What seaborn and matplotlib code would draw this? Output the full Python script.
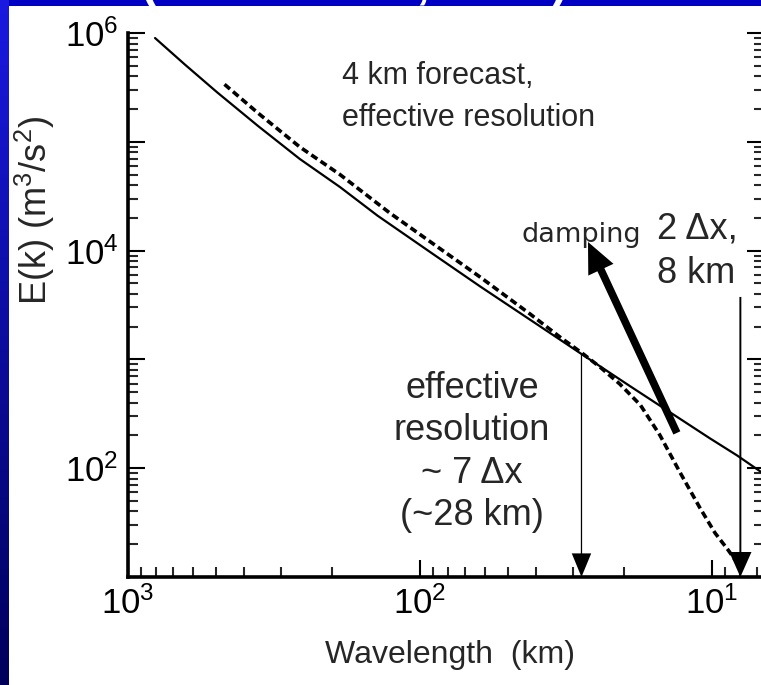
import numpy as np
import pandas as pd
import matplotlib
matplotlib.use("Agg")
import matplotlib.pyplot as plt
import seaborn as sns
from matplotlib.patches import Rectangle
from matplotlib.ticker import LogLocator, FuncFormatter, NullFormatter

# Kinetic energy spectra: wavelength (km) vs E(k) (m^3/s^2)
ref_wavelength = [808, 638, 496, 359, 258, 188, 140, 92.4, 62.3, 42.0, 27.9, 19.1,
                  13.6, 10.2, 8.21, 6.64]
ref_energy = [8.99e5, 5.12e5, 2.86e5, 1.40e5, 6.95e4, 3.84e4, 2.10e4, 9710, 4690,
              2317, 1114, 568, 313, 189, 131, 88.5]

fcst_wavelength = [473, 359, 258, 188, 127, 92.4, 62.3, 42.0, 33.2, 27.9, 24.2, 20.7,
                   17.6, 15.1, 12.9, 11.0, 9.77, 8.81, 8.15]
fcst_energy = [3.47e5, 1.84e5, 8.96e4, 5.00e4, 2.22e4, 1.21e4, 5720, 2614, 1607, 1145,
               851, 594, 381, 202, 92.3, 43.1, 25.4, 17.7, 13.2]

eff_res_km = 28      # effective resolution ~7 dx
two_dx_km = 8        # 2 dx for the 4 km grid
x_ticks = [1e3, 1e2, 1e1]
y_ticks_labeled = [1e2, 1e4, 1e6]

W, H = 761, 685
sns.set_style("ticks")
plt.rcParams["font.family"] = ["Liberation Sans", "DejaVu Sans"]
plt.rcParams["mathtext.fontset"] = "custom"
plt.rcParams["mathtext.rm"] = "Liberation Sans"
plt.rcParams["mathtext.it"] = "Liberation Sans:italic"
plt.rcParams["mathtext.bf"] = "Liberation Sans:bold"

fig = plt.figure(figsize=(W / 100, H / 100), dpi=100, facecolor="#0000c4")

def fx(px):
    return px / W

def fy(py):
    return 1 - py / H

# slide backdrop: gradient strip on the left, white panel for the chart
strip = fig.add_axes([0, 0, fx(9), 1], zorder=-2)
grad = np.linspace(0, 1, 200)[:, None]
top_c = np.array([0.10, 0.10, 0.88])
bot_c = np.array([0.0, 0.0, 0.36])
img = (top_c[None, None, :] * (1 - grad[..., None]) + bot_c[None, None, :] * grad[..., None])
strip.imshow(img, aspect="auto", extent=[0, 1, 0, 1])
strip.set_axis_off()
fig.add_artist(Rectangle((fx(9), 0), 1, fy(6), transform=fig.transFigure,
                         facecolor="white", edgecolor="none", zorder=-1))
fig.text(fx(141), 1 + 2 / H, "(Skamarock, 2004)", color="white", fontsize=35,
         fontweight="bold", family="Liberation Sans", va="baseline", ha="left")

ax_l, ax_r, ax_t, ax_b = 128, 764, 33, 577
ax = fig.add_axes([fx(ax_l), fy(ax_b), (ax_r - ax_l) / W, (ax_b - ax_t) / H])
ax.set_facecolor("white")

ref = pd.DataFrame({"wavelength": ref_wavelength, "energy": ref_energy})
fcst = pd.DataFrame({"wavelength": fcst_wavelength, "energy": fcst_energy})
sns.lineplot(data=ref, x="wavelength", y="energy", ax=ax, color="black", lw=1.6)
sns.lineplot(data=fcst, x="wavelength", y="energy", ax=ax, color="black", lw=2.6,
             linestyle=(0, (2.0, 1.1)))

ax.set_xscale("log")
ax.set_yscale("log")
ax.set_xlim(1000, 6.64)
ax.set_ylim(10, 1e6)
ax.set_xlabel("")
ax.set_ylabel("")

ax.xaxis.set_major_locator(LogLocator(base=10, numticks=10))
ax.xaxis.set_minor_locator(LogLocator(base=10, subs=np.arange(2, 10), numticks=20))
ax.yaxis.set_major_locator(LogLocator(base=10, numticks=10))
ax.yaxis.set_minor_locator(LogLocator(base=10, subs=np.arange(2, 10), numticks=20))
ax.xaxis.set_major_formatter(FuncFormatter(
    lambda v, p: r"$\mathdefault{10^{%d}}$" % round(np.log10(v)) if v in x_ticks else ""))
ax.yaxis.set_major_formatter(FuncFormatter(
    lambda v, p: r"$\mathdefault{10^{%d}}$" % round(np.log10(v)) if v in y_ticks_labeled else ""))
ax.xaxis.set_minor_formatter(NullFormatter())
ax.yaxis.set_minor_formatter(NullFormatter())

ax.tick_params(which="major", direction="in", length=12, width=1.5, labelsize=25,
               left=True, right=True, bottom=True, top=False, pad=7, colors="black")
ax.tick_params(which="minor", direction="in", length=7, width=1.5,
               left=True, right=True, bottom=True, top=False)
ax.spines["top"].set_visible(False)
for s in ["left", "bottom", "right"]:
    ax.spines[s].set_linewidth(2.6)
    ax.spines[s].set_color("black")

# axis titles
fig.text(fx(450), fy(655), "Wavelength  (km)", fontsize=23, ha="center", va="center")
fig.text(fx(35), fy(210), r"E(k) (m$^3$/s$^2$)", fontsize=26, rotation=90,
         ha="center", va="center")

# annotations
axf = ax.transAxes
def afx(px):
    return (px - ax_l) / (ax_r - ax_l)
def afy(py):
    return (ax_b - py) / (ax_b - ax_t)

ax.text(afx(342), afy(97), "4 km forecast,\neffective resolution", transform=axf,
        fontsize=22, ha="left", va="center", linespacing=1.53)
ax.text(afx(472), afy(452), "effective\nresolution\n~ 7 \u0394x\n(~28 km)", transform=axf,
        fontsize=26, ha="center", va="center", multialignment="center", linespacing=1.28)
ax.text(afx(657), afy(251), "2 \u0394x,\n8 km", transform=axf,
        fontsize=26, ha="left", va="center", linespacing=1.35)
ax.text(afx(521), afy(242), "damping", transform=axf, family="DejaVu Sans",
        fontsize=19.5, ha="left", va="baseline")

log_x = np.log10(ref_wavelength)[::-1]
log_y = np.log10(ref_energy)[::-1]
y_eff = 10 ** np.interp(np.log10(eff_res_km), log_x, log_y)

ax.annotate("", xy=(eff_res_km, 10), xytext=(eff_res_km, y_eff),
            arrowprops=dict(width=0.9, headwidth=14, headlength=17, shrink=0,
                            facecolor="black", edgecolor="black", lw=0))
ax.annotate("", xy=(two_dx_km, 10), xytext=(two_dx_km, 3750),
            arrowprops=dict(width=1.4, headwidth=16, headlength=18, shrink=0,
                            facecolor="black", edgecolor="black", lw=0))
ax.annotate("", xy=(26.6, 1.2e4), xytext=(13.2, 211),
            arrowprops=dict(width=5.5, headwidth=20, headlength=22, shrink=0,
                            facecolor="black", edgecolor="black", lw=0))

fig.savefig("out.png", dpi=100, facecolor=fig.get_facecolor())
